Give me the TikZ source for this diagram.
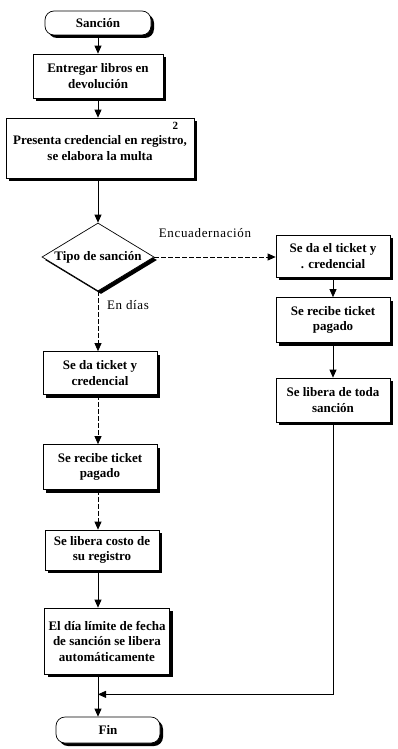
\documentclass[tikz,border=0pt]{standalone}
\usepackage{fontspec}
\setmainfont{Liberation Serif}
\usetikzlibrary{shapes.geometric, arrows.meta, positioning, shadows}
\tikzstyle{startstop} = [
  rectangle,
  rounded corners=9pt,
  minimum width=106pt,
  minimum height=24pt,
  text centered,
  draw=black,
  line width=0.7pt,
  inner sep=0,
  fill=white,
  font=\bfseries\fontsize{13}{15.5}\selectfont,
  drop shadow={shadow xshift=3pt, shadow yshift=-3pt, fill=black, opacity=1}
]
\tikzstyle{process} = [
  rectangle,
  minimum width=114pt,
  minimum height=43pt,
  align=center,
  draw=black,
  line width=0.7pt,
  inner sep=0,
  fill=white,
  font=\bfseries\fontsize{13}{15.5}\selectfont,
  drop shadow={shadow xshift=3pt, shadow yshift=-3pt, fill=black, opacity=1}
]
\tikzstyle{decision} = [
  diamond,
  minimum width=112pt,
  minimum height=68pt,
  aspect=1.65,
  text centered,
  draw=black,
  line width=0.7pt,
  inner sep=0,
  fill=white,
  font=\bfseries\fontsize{13}{15.5}\selectfont,
  drop shadow={shadow xshift=3pt, shadow yshift=-3pt, fill=black, opacity=1}
]
\tikzstyle{branch} = [
  font=\fontsize{13}{15}\selectfont\addfontfeatures{LetterSpace=5}
]
\tikzstyle{arrow} = [
  thick,
  ->,
  >={Triangle[length=8pt, width=7pt]}
]
\tikzstyle{dashline} = [
  dash pattern=on 5pt off 2pt
]

\begin{document}
\begin{tikzpicture}[node distance=90pt]

    \useasboundingbox (0,0) rectangle (397pt,-749pt);

    \node (start) [startstop] at (98pt,-23pt) {Sanción};
    \node (get) [process, below of=start, yshift=37pt, minimum width=130pt, minimum height=44pt] {Entregar libros en\\devolución};
    \node (present) [process, below of=get, yshift=18pt, xshift=2pt, minimum width=188pt, minimum height=60pt] {Presenta credencial en registro,\\se elabora la multa};
    \node (nota) [font=\bfseries\fontsize{11}{11}\selectfont] at ([xshift=-19pt, yshift=-8pt]present.north east) {2};
    \node (tipo) [decision, below of=present, yshift=-19pt, xshift=-2pt] {Tipo de sanción};
    \node (enc) [branch, right of=tipo, xshift=17pt, yshift=24pt] {Encuadernación};
    \node (dias) [branch, below of=tipo, xshift=30pt, yshift=42pt] {En días};

    \node (ticketr) [process, right of=tipo, xshift=145pt, yshift=1pt, minimum height=42pt] {Se da el ticket y\\. credencial};
    \node (pagor) [process, below of=ticketr, yshift=26pt, minimum height=45pt] {Se recibe ticket\\pagado};
    \node (liberar) [process, below of=pagor, yshift=10pt, minimum height=44pt] {Se libera de toda\\sanción};

    \node (ticketl) [process, below of=tipo, yshift=-26pt, xshift=2pt] {Se da ticket y\\credencial};
    \node (pagol) [process, below of=ticketl, yshift=-4pt, minimum height=45pt] {Se recibe ticket\\pagado};
    \node (costo) [process, below of=pagol, yshift=7pt, xshift=2pt, minimum height=40pt] {Se libera costo de\\su registro};
    \node (limite) [process, below of=costo, yshift=-1pt, xshift=5pt, minimum width=125pt, minimum height=66pt] {El día límite de fecha\\de sanción se libera\\automáticamente};
    \node (fin) [startstop, below of=limite, yshift=1pt, xshift=1pt, minimum width=104pt, minimum height=26pt] {Fin};
    \coordinate (join) at ([yshift=-20pt]limite.south -| tipo);

    \draw [arrow] (start) -- (start |- get.north);
    \draw [arrow] (get) -- (get |- present.north);
    \draw [arrow] (present.south -| tipo) -- (tipo);
    \draw [arrow, dashline] (tipo) -- (tipo -| ticketr.west);
    \draw [arrow] (ticketr) -- (pagor);
    \draw [arrow] (pagor) -- (liberar);
    \draw [arrow, dashline] (tipo) -- (tipo |- ticketl.north);
    \draw [arrow, dashline] (ticketl.south -| tipo) -- (tipo |- pagol.north);
    \draw [arrow, dashline] (pagol.south -| tipo) -- (tipo |- costo.north);
    \draw [arrow] (costo.south -| tipo) -- (tipo |- limite.north);
    \draw [arrow] (liberar) |- (join);
    \draw [arrow] (limite.south -| join) -- (join |- fin.north);

  \end{tikzpicture}
\end{document}
